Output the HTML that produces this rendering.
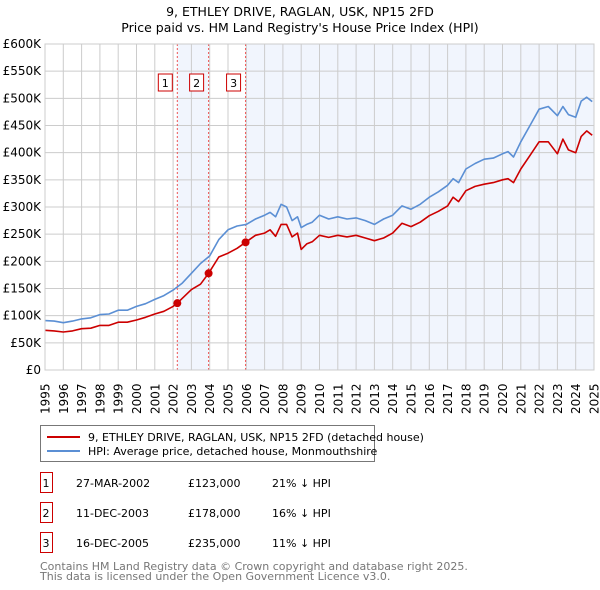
<!DOCTYPE html>
<html><head><meta charset="utf-8"><style>
body{margin:0;background:#fff;font-family:"DejaVu Sans","Liberation Sans",sans-serif;}
svg{display:block}
</style></head><body>
<svg id="c" width="600" height="590" xmlns="http://www.w3.org/2000/svg" font-family="DejaVu Sans, Liberation Sans, sans-serif">
<text x="300" y="16" text-anchor="middle" font-size="12.5">9, ETHLEY DRIVE, RAGLAN, USK, NP15 2FD</text>
<text x="300" y="32" text-anchor="middle" font-size="12.5">Price paid vs. HM Land Registry's House Price Index (HPI)</text>
<g id="plot"></g>
<g>
<rect x="40.5" y="425.5" width="334" height="36" fill="#fff" stroke="#777"/>
<line x1="47" y1="437" x2="80" y2="437" stroke="#cc0000" stroke-width="2"/>
<text x="88" y="441" font-size="11">9, ETHLEY DRIVE, RAGLAN, USK, NP15 2FD (detached house)</text>
<line x1="47" y1="451" x2="80" y2="451" stroke="#5b8fd4" stroke-width="2"/>
<text x="88" y="455" font-size="11">HPI: Average price, detached house, Monmouthshire</text>
</g>
<g id="tbl" font-size="11"></g>
<text x="40" y="570" font-size="11" fill="#777">Contains HM Land Registry data © Crown copyright and database right 2025.</text>
<text x="40" y="580" font-size="11" fill="#777">This data is licensed under the Open Government Licence v3.0.</text>
</svg>
<script>
const hpiYears=[1995,1995.5,1996,1996.5,1997,1997.5,1998,1998.5,1999,1999.5,2000,2000.5,2001,2001.5,2002,2002.5,2003,2003.5,2004,2004.5,2005,2005.5,2006,2006.5,2007,2007.3,2007.6,2007.9,2008.2,2008.5,2008.8,2009,2009.3,2009.6,2010,2010.5,2011,2011.5,2012,2012.5,2013,2013.5,2014,2014.5,2015,2015.5,2016,2016.5,2017,2017.3,2017.6,2018,2018.5,2019,2019.5,2020,2020.3,2020.6,2021,2021.5,2022,2022.5,2023,2023.3,2023.6,2024,2024.3,2024.6,2024.9];
const hpiValues=[91,90,87,90,94,96,102,103,110,110,117,122,130,137,147,160,178,196,210,240,258,265,268,278,285,290,282,305,300,275,282,262,268,272,285,278,282,278,280,275,268,278,285,302,296,305,318,328,340,352,345,370,380,388,390,398,402,392,420,450,480,485,468,485,470,465,495,502,494];
const ppYears=[1995,1995.5,1996,1996.5,1997,1997.5,1998,1998.5,1999,1999.5,2000,2000.5,2001,2001.5,2002,2002.23,2002.5,2003,2003.5,2003.94,2004.5,2005,2005.5,2005.96,2006.5,2007,2007.3,2007.6,2007.9,2008.2,2008.5,2008.8,2009,2009.3,2009.6,2010,2010.5,2011,2011.5,2012,2012.5,2013,2013.5,2014,2014.5,2015,2015.5,2016,2016.5,2017,2017.3,2017.6,2018,2018.5,2019,2019.5,2020,2020.3,2020.6,2021,2021.5,2022,2022.5,2023,2023.3,2023.6,2024,2024.3,2024.6,2024.9];
const ppValues=[73,72,70,72,76,77,82,82,88,88,92,97,103,108,117,123,132,148,158,178,208,215,224,235,248,252,258,246,268,268,245,252,222,232,236,248,244,248,245,248,243,238,243,252,270,264,272,284,292,302,318,310,330,338,342,345,350,352,345,370,395,420,420,398,425,405,400,430,440,432];
const sales=[{n:"1",year:2002.23,val:123,date:"27-MAR-2002",price:"£123,000",pct:"21% ↓ HPI"},{n:"2",year:2003.94,val:178,date:"11-DEC-2003",price:"£178,000",pct:"16% ↓ HPI"},{n:"3",year:2005.96,val:235,date:"16-DEC-2005",price:"£235,000",pct:"11% ↓ HPI"}];
const yTicks=[0,50,100,150,200,250,300,350,400,450,500,550,600];
const yLabels=["£0","£50K","£100K","£150K","£200K","£250K","£300K","£350K","£400K","£450K","£500K","£550K","£600K"];
const NS="http://www.w3.org/2000/svg";
const X0=45,X1=594,Y0=370,Y1=44;
const xs=y=>X0+(y-1995)/30*(X1-X0);
const ys=v=>Y0-v/600*(Y0-Y1);
const plot=document.getElementById('plot');
function mk(t,a,p){const e=document.createElementNS(NS,t);for(const k in a)e.setAttribute(k,a[k]);(p||plot).appendChild(e);return e;}
// shading
let s=mk('rect',{x:xs(sales[0].year),y:Y1,width:xs(sales[1].year)-xs(sales[0].year),height:Y0-Y1,fill:'#eef3fc',opacity:0.8});


s=mk('rect',{x:xs(sales[2].year),y:Y1,width:X1-xs(sales[2].year),height:Y0-Y1,fill:'#eef3fc',opacity:0.8});


// grid
yTicks.forEach((v,i)=>{
 let l=mk('line',{x1:X0,x2:X1,y1:ys(v),y2:ys(v),stroke:'#ccc','stroke-width':1});
 
 
 let t=mk('text',{x:X0-4,y:ys(v)+4,'text-anchor':'end','font-size':12});
 
 
 t.textContent=yLabels[i];
});
for(let yr=1995;yr<=2025;yr++){
 let l=mk('line',{x1:xs(yr),x2:xs(yr),y1:Y1,y2:Y0,stroke:'#ccc','stroke-width':1});
 
 
 let t=mk('text',{transform:`translate(${xs(yr)+4.5},414) rotate(-90)`,'font-size':12});
 
 
 t.textContent=yr;
}
// sale markers lines
sales.forEach(d=>{
 let l=mk('line',{x1:xs(d.year),x2:xs(d.year),y1:Y1,y2:Y0,stroke:'#e55','stroke-width':1,'stroke-dasharray':'2,2'});
 
 
 let r=mk('rect',{x:xs(d.year)-19,y:74,width:14,height:17,fill:'#fff',stroke:'#cc0000'});
 
 
 let t=mk('text',{x:xs(d.year)-12,y:87,'text-anchor':'middle','font-size':11});
 
 
 t.textContent=d.n;
});
function path(xa,va,col,name){
 const d=xa.map((x,i)=>(i?'L':'M')+xs(x).toFixed(1)+','+ys(va[i]).toFixed(1)).join('');
 const p=mk('path',{d:d,fill:'none',stroke:col,'stroke-width':1.6,'stroke-linejoin':'round'});
 
 
}
path(hpiYears,hpiValues,'#5b8fd4','hpi-line');
path(ppYears,ppValues,'#cc0000','price-paid-line');
sales.forEach(d=>{
 const c=mk('circle',{cx:xs(d.year),cy:ys(d.val),r:4,fill:'#cc0000'});
 
 
});
let b=mk('rect',{x:X0,y:Y1,width:X1-X0,height:Y0-Y1,fill:'none',stroke:'#ccc'});


// table
const tbl=document.getElementById('tbl');
sales.forEach((d,i)=>{
 const y=483+i*30;
 let r=mk('rect',{x:40.5,y:y-10.5,width:12,height:20,fill:'#fff',stroke:'#cc0000'},tbl);
 
 
 const cells=[[46,d.n,'middle','sale-row-number'],[76,d.date,'start','sale-row-date'],[188,d.price,'start','sale-row-price'],[272,d.pct,'start','sale-row-hpi-diff']];
 cells.forEach(c=>{
  let t=mk('text',{x:c[0],y:y+4,'text-anchor':c[2]},tbl);
  
  
  t.textContent=c[1];
 });
});
</script>
</body></html>
